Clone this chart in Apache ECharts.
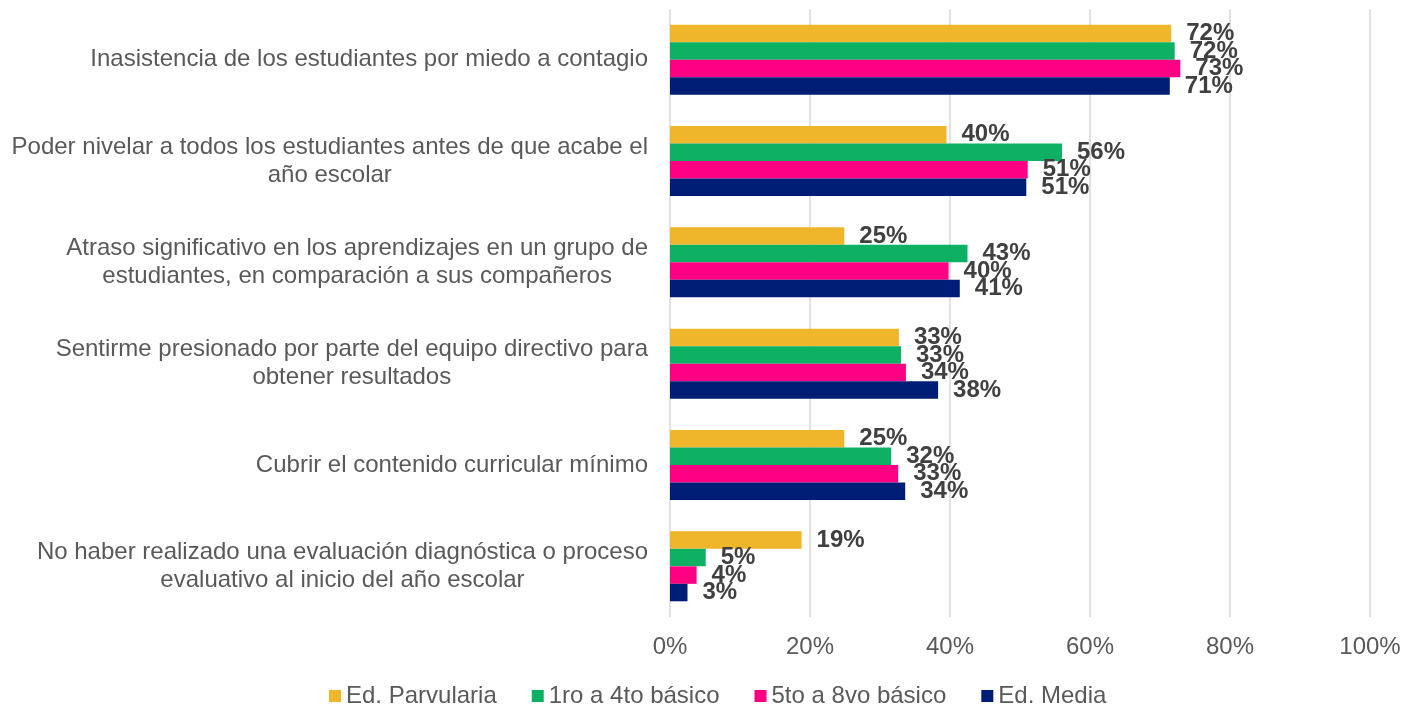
<!DOCTYPE html>
<html>
<head>
<meta charset="utf-8">
<script src="https://cdn.jsdelivr.net/npm/echarts@6/dist/echarts.min.js"></script>
<style>
  html, body { margin: 0; padding: 0; background: #fff; }
  #chart { width: 1404px; height: 708px; }
</style>
</head>
<body>
<div id="chart"></div>
<script>
// categorías (de arriba hacia abajo)
const categories = [
  'Inasistencia de los estudiantes por miedo a contagio',
  'Poder nivelar a todos los estudiantes antes de que acabe el\naño escolar',
  'Atraso significativo en los aprendizajes en un grupo de\nestudiantes, en comparación a sus compañeros',
  'Sentirme presionado por parte del equipo directivo para\nobtener resultados',
  'Cubrir el contenido curricular mínimo',
  'No haber realizado una evaluación diagnóstica o proceso\nevaluativo al inicio del año escolar'
]

const seriesNames = ['Ed. Parvularia', '1ro a 4to básico', '5to a 8vo básico', 'Ed. Media']

// porcentajes por nivel
const parvularia = [71.6, 39.5, 24.9, 32.7, 24.9, 18.8]
const basico1a4 = [72.1, 56.0, 42.5, 33.0, 31.6, 5.1]
const basico5a8 = [72.9, 51.1, 39.8, 33.7, 32.6, 3.8]
const media = [71.4, 50.9, 41.4, 38.3, 33.6, 2.5]

const xTicks = [0, 20, 40, 60, 80, 100]

const colors = ['#F0B62B', '#0EB163', '#FE0082', '#001D75']
const values = [parvularia, basico1a4, basico5a8, media]

const chart = echarts.init(document.getElementById('chart'))

const option = {
  animation: false,
  textStyle: { fontFamily: 'Liberation Sans, Arial, sans-serif' },
  grid: {
    left: 670,
    right: 34,
    top: 9,
    bottom: 91
  },
  legend: {
    data: seriesNames,
    left: 329,
    top: 684,
    padding: 0,
    itemWidth: 12,
    itemHeight: 12,
    itemGap: 35,
    icon: 'rect',
    textStyle: { fontSize: 24, color: '#595959' }
  },
  xAxis: {
    type: 'value',
    min: xTicks[0],
    max: xTicks[xTicks.length - 1],
    interval: 20,
    axisLine: { show: false },
    axisTick: { show: false },
    axisLabel: {
      formatter: '{value}%',
      fontSize: 24,
      color: '#595959',
      margin: 18
    },
    splitLine: { lineStyle: { color: '#d9d9d9', width: 1.5 } }
  },
  yAxis: {
    type: 'category',
    data: categories,
    inverse: true,
    axisLine: { show: false },
    axisTick: { show: false },
    axisLabel: {
      margin: 22,
      align: 'right',
      formatter: v => v.split('\n').map(s => '{c|' + s + '}').join('\n'),
      rich: {
        c: { align: 'center', fontSize: 24, lineHeight: 28, color: '#595959' }
      }
    }
  },
  series: seriesNames.map((name, i) => ({
    name: name,
    type: 'bar',
    data: values[i],
    barGap: '0%',
    barCategoryGap: '31%',
    itemStyle: { color: colors[i] },
    label: {
      show: true,
      position: 'right',
      distance: 15,
      fontSize: 24,
      fontWeight: 'bold',
      color: '#404040',
      formatter: p => Math.round(p.value) + '%'
    }
  }))
}

chart.setOption(option)
</script>
</body>
</html>
